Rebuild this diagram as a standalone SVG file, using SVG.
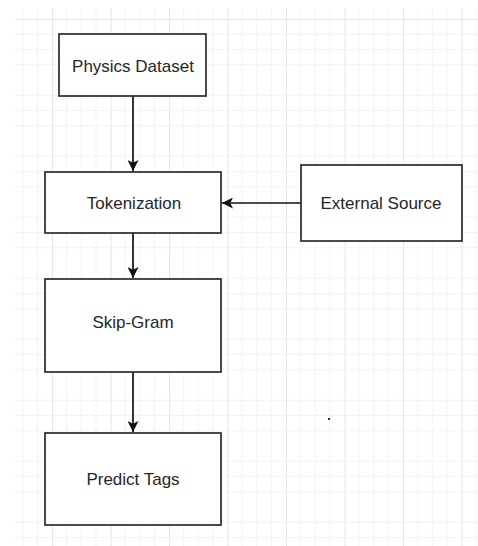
<svg xmlns="http://www.w3.org/2000/svg" width="478" height="546" viewBox="0 0 478 546">
  <style>
    .box { fill: #ffffff; stroke: #2b2b2b; stroke-width: 1.7; }
    .label { font-family: "Liberation Sans", Arial, sans-serif; font-size: 17px; fill: #262626; text-anchor: middle; }
    .edge { stroke: #111111; stroke-width: 1.7; fill: none; }
    .minor { stroke: #f3f3f3; stroke-width: 1; }
    .major { stroke: #e6e6e6; stroke-width: 1.2; }
  </style>
  <defs>
    <pattern id="grid" patternUnits="userSpaceOnUse" x="52" y="19" width="58.5" height="61">
      <line class="minor" x1="14.6" y1="0" x2="14.6" y2="61"/>
      <line class="minor" x1="29.25" y1="0" x2="29.25" y2="61"/>
      <line class="minor" x1="43.9" y1="0" x2="43.9" y2="61"/>
      <line class="minor" x1="0" y1="15.25" x2="58.5" y2="15.25"/>
      <line class="minor" x1="0" y1="30.5" x2="58.5" y2="30.5"/>
      <line class="minor" x1="0" y1="45.75" x2="58.5" y2="45.75"/>
      <line class="major" x1="0.5" y1="0" x2="0.5" y2="61"/>
      <line class="major" x1="0" y1="0.5" x2="58.5" y2="0.5"/>
    </pattern>
    <marker id="arrow" viewBox="0 0 10 10" refX="10" refY="5" markerWidth="11" markerHeight="11" markerUnits="userSpaceOnUse" orient="auto">
      <path d="M0,0 L10,5 L0,10 L2.5,5 Z" fill="#111111"/>
    </marker>
  </defs>

  <!-- page background and drawing grid -->
  <rect x="0" y="0" width="478" height="546" fill="#ffffff"/>
  <rect x="15" y="8" width="463" height="538" fill="url(#grid)"/>

  <g id="connectors">
    <line class="edge" x1="133" y1="96" x2="133" y2="171" marker-end="url(#arrow)"/>
    <line class="edge" x1="301" y1="203" x2="222" y2="203" marker-end="url(#arrow)"/>
    <line class="edge" x1="133" y1="233" x2="133" y2="278" marker-end="url(#arrow)"/>
    <line class="edge" x1="133" y1="372" x2="133" y2="432" marker-end="url(#arrow)"/>
  </g>

  <g id="physics-dataset">
    <rect class="box" x="59" y="34" width="147" height="62"/>
    <text class="label" x="133" y="72">Physics Dataset</text>
  </g>

  <g id="tokenization">
    <rect class="box" x="45" y="172" width="176" height="61"/>
    <text class="label" x="134" y="209">Tokenization</text>
  </g>

  <g id="external-source">
    <rect class="box" x="301" y="165" width="161" height="76"/>
    <text class="label" x="381" y="209">External Source</text>
  </g>

  <g id="skip-gram">
    <rect class="box" x="45" y="279" width="176" height="93"/>
    <text class="label" x="133" y="328">Skip-Gram</text>
  </g>

  <g id="predict-tags">
    <rect class="box" x="45" y="433" width="176" height="92"/>
    <text class="label" x="133" y="485">Predict Tags</text>
  </g>

  <!-- stray mark on the canvas -->
  <rect x="328" y="418" width="2" height="2" fill="#333333"/>
</svg>
